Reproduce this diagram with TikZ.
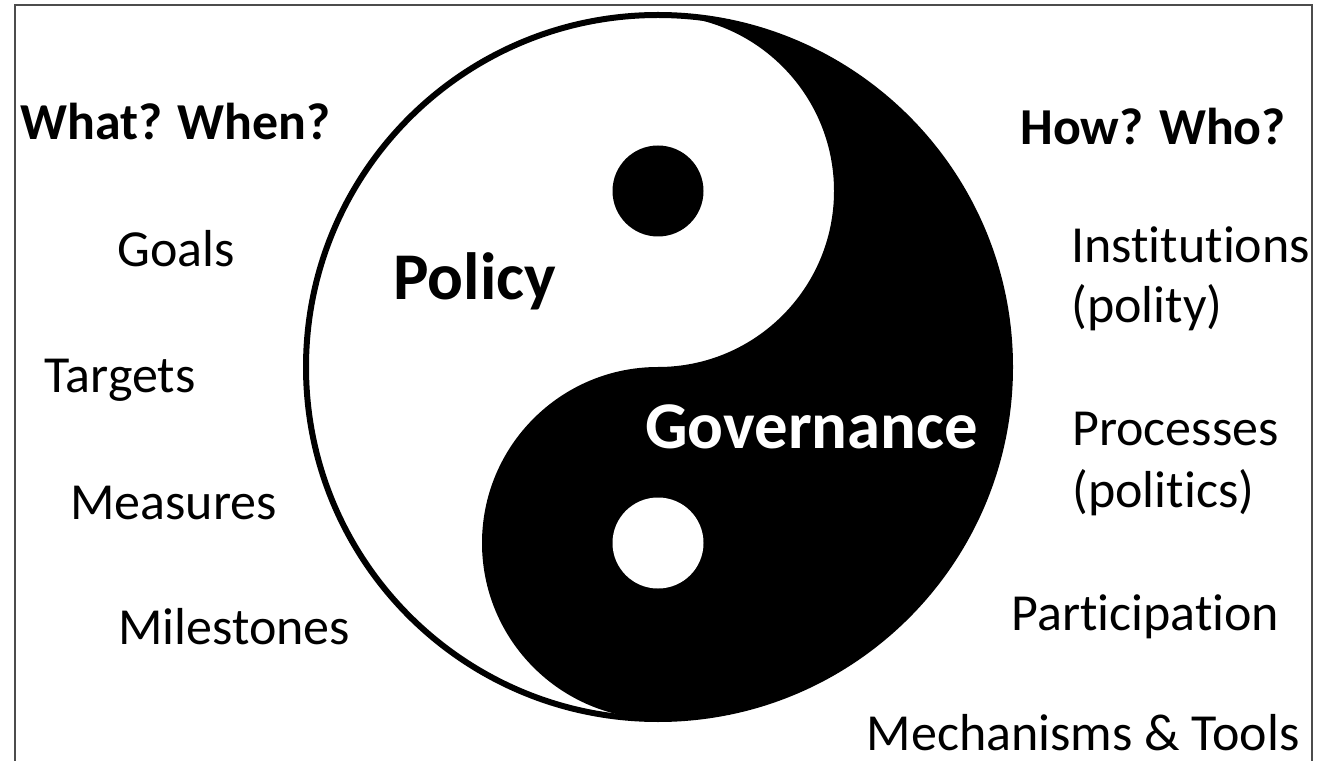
\documentclass[tikz,border=0pt]{standalone}
\usepackage{fontspec}
\setmainfont{Carlito}[Ligatures={NoCommon}]
\begin{document}
\begin{tikzpicture}[
        item/.style={anchor=base west, inner sep=0pt, font=\fontsize{29.6}{34}\selectfont},
        question/.style={item, font=\fontsize{29.5}{34}\selectfont\bfseries},
        half/.style={anchor=base west, inner sep=0pt, font=\fontsize{38}{44}\selectfont\bfseries}]
        \useasboundingbox (0,0) rectangle (26.5,-15.22);
        % frame
        \draw[line width=0.04cm, black!70] (0.3,-15.22) -- (0.3,-0.1) -- (26.24,-0.1) -- (26.24,-15.22);
        % yin and yang
        \begin{scope}[shift={(13.16,-7.34)}]
            \fill[white] (0,0) circle (7.04);
            \fill (0,7.04) arc[start angle=90, end angle=-90, radius=7.04]
                arc[start angle=270, end angle=90, radius=3.52]
                arc[start angle=-90, end angle=90, radius=3.52] -- cycle;
            \draw[line width=0.12cm] (0,0) circle (7.04);
            \fill (0,3.52) circle (0.91);
            \fill[white] (0,-3.52) circle (0.91);
        \end{scope}
        \node[half] (policy) at (7.86,-6.00) {Policy};
        \node[half, white] (governance) at (12.90,-8.96) {Governance};
        % left side
        \node[question] (whatwhen) at (0.40,-2.80) {What? When?};
        \node[item] (goals) at (2.34,-5.34) {Goals};
        \node[item] (targets) at (0.88,-7.84) {Targets};
        \node[item] (measures) at (1.40,-10.38) {Measures};
        \node[item] (milestones) at (2.36,-12.88) {Milestones};
        % right side
        \node[question] (howwho) at (20.40,-2.90) {How? Who?};
        \node[item] (institutions) at (21.42,-5.26) {Institutions};
        \node[item] (polity) at (21.42,-6.44) {(polity)};
        \node[item] (processes) at (21.44,-8.92) {Processes};
        \node[item] (politics) at (21.44,-10.14) {(politics)};
        \node[item] (participation) at (20.22,-12.60) {Participation};
        \node[item, anchor=base east] (mechanisms) at (26.00,-15.00) {Mechanisms \& Tools};
\end{tikzpicture}
\end{document}
